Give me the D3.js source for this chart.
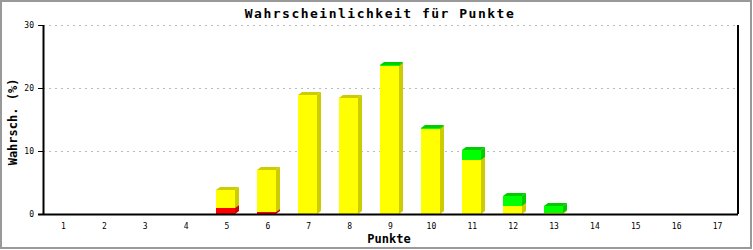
<!DOCTYPE html>
<meta charset="utf-8">
<style>
  body { margin: 0; background: #fff; }
  text { font-family: "DejaVu Sans Mono", monospace; }
</style>
<div id="chart"></div>
<script src="https://d3js.org/d3.v7.min.js"></script>
<script>
// points 1..17 and the three stacked parts (red bottom, yellow middle, green top)
const punkte = ["1","2","3","4","5","6","7","8","9","10","11","12","13","14","15","16","17"];
const rot    = [0, 0, 0, 0, 0.95, 0.3, 0, 0, 0, 0, 0, 0, 0, 0, 0, 0, 0];
const gelb   = [0, 0, 0, 0, 2.85, 6.7, 18.9, 18.4, 23.5, 13.5, 8.6, 1.3, 0.1, 0, 0, 0, 0];
const gruen  = [0, 0, 0, 0, 0, 0, 0, 0, 0.2, 0.2, 1.6, 1.6, 1.2, 0, 0, 0, 0];
const yTicks = [0, 10, 20, 30];

const W = 753, H = 250;
const margin = {top: 25, right: 15, bottom: 36, left: 43};
const width = 738 - margin.left, height = 214 - margin.top;

const svg = d3.select("#chart").append("svg")
    .attr("width", W).attr("height", H);

// outer frame
svg.append("rect")
    .attr("x", 1).attr("y", 1).attr("width", 750).attr("height", 247)
    .attr("fill", "none").attr("stroke", "#999").attr("stroke-width", 2);

svg.append("text")
    .attr("x", 380).attr("y", 18)
    .attr("text-anchor", "middle")
    .attr("font-size", 13).attr("font-weight", "bold")
    .attr("letter-spacing", 1.5)
    .text("Wahrscheinlichkeit für Punkte");

const g = svg.append("g").attr("transform", `translate(${margin.left},${margin.top})`);

const x = d3.scaleBand().domain(punkte).range([0, width]).padding(0);
const y = d3.scaleLinear().domain([0, 30]).range([height, 0]);

// grid
g.selectAll("line.grid")
  .data(yTicks.filter(d => d > 0))
  .join("line")
    .attr("x1", 0).attr("x2", width)
    .attr("y1", d => y(d) + 0.5).attr("y2", d => y(d) + 0.5)
    .attr("stroke", "#bbb").attr("stroke-dasharray", "2,4");

// stacked data
const table = punkte.map((p, i) => ({p, rot: rot[i], gelb: gelb[i], gruen: gruen[i]}));
const keys = ["rot", "gelb", "gruen"];
const front = {rot: "#ff0000", gelb: "#ffff00", gruen: "#00ff00"};
const dark = {rot: "#cc0000", gelb: "#cccc00", gruen: "#00cc00"};
const stacked = d3.stack().keys(keys)(table);

const bw = 19, dx = 4, dy = 3;
stacked.forEach(layer => {
  const segs = layer.filter(d => d[1] - d[0] > 0);
  const k = layer.key;
  const sg = g.append("g");
  segs.forEach(d => {
    const x0 = Math.round(x(d.data.p) + (x.bandwidth() - bw) / 2 - 1);
    const yb = Math.round(y(d[0])), yt = Math.round(y(d[1]));
    sg.append("rect")
      .attr("x", x0).attr("y", yt).attr("width", bw).attr("height", yb - yt)
      .attr("fill", front[k]);
    sg.append("polygon")
      .attr("points", [[x0 + bw, yb], [x0 + bw + dx, yb - dy], [x0 + bw + dx, yt - dy], [x0 + bw, yt]].join(" "))
      .attr("fill", dark[k]);
    sg.append("polygon")
      .attr("points", [[x0, yt], [x0 + dx, yt - dy], [x0 + bw + dx, yt - dy], [x0 + bw, yt]].join(" "))
      .attr("fill", dark[k]);
  });
});

// axes
const yAxis = g.append("g")
  .call(d3.axisLeft(y).tickValues(yTicks).tickSize(5).tickPadding(4));
yAxis.select(".domain").attr("d", `M0.5,0V${height}`).attr("stroke", "#000").attr("stroke-width", 2);
yAxis.selectAll("text").attr("font-size", 8).attr("font-family", "DejaVu Sans Mono");

const xAxis = g.append("g").attr("transform", `translate(0,${height})`)
  .call(d3.axisBottom(x).tickSize(0).tickPadding(9));
xAxis.select(".domain").attr("d", `M-5,0.5H${width}`).attr("stroke", "#000").attr("stroke-width", 2);
xAxis.selectAll("text").attr("font-size", 8).attr("font-family", "DejaVu Sans Mono");

g.append("line")
  .attr("x1", width).attr("x2", width).attr("y1", 0).attr("y2", height)
  .attr("stroke", "#000").attr("stroke-width", 2);

// axis titles
svg.append("text")
    .attr("x", 389).attr("y", 243)
    .attr("text-anchor", "middle")
    .attr("font-size", 12).attr("font-weight", "bold")
    .text("Punkte");

svg.append("text")
    .attr("transform", `translate(17,122) rotate(-90)`)
    .attr("text-anchor", "middle")
    .attr("font-size", 12).attr("font-weight", "bold")
    .text("Wahrsch. (%)");
</script>
